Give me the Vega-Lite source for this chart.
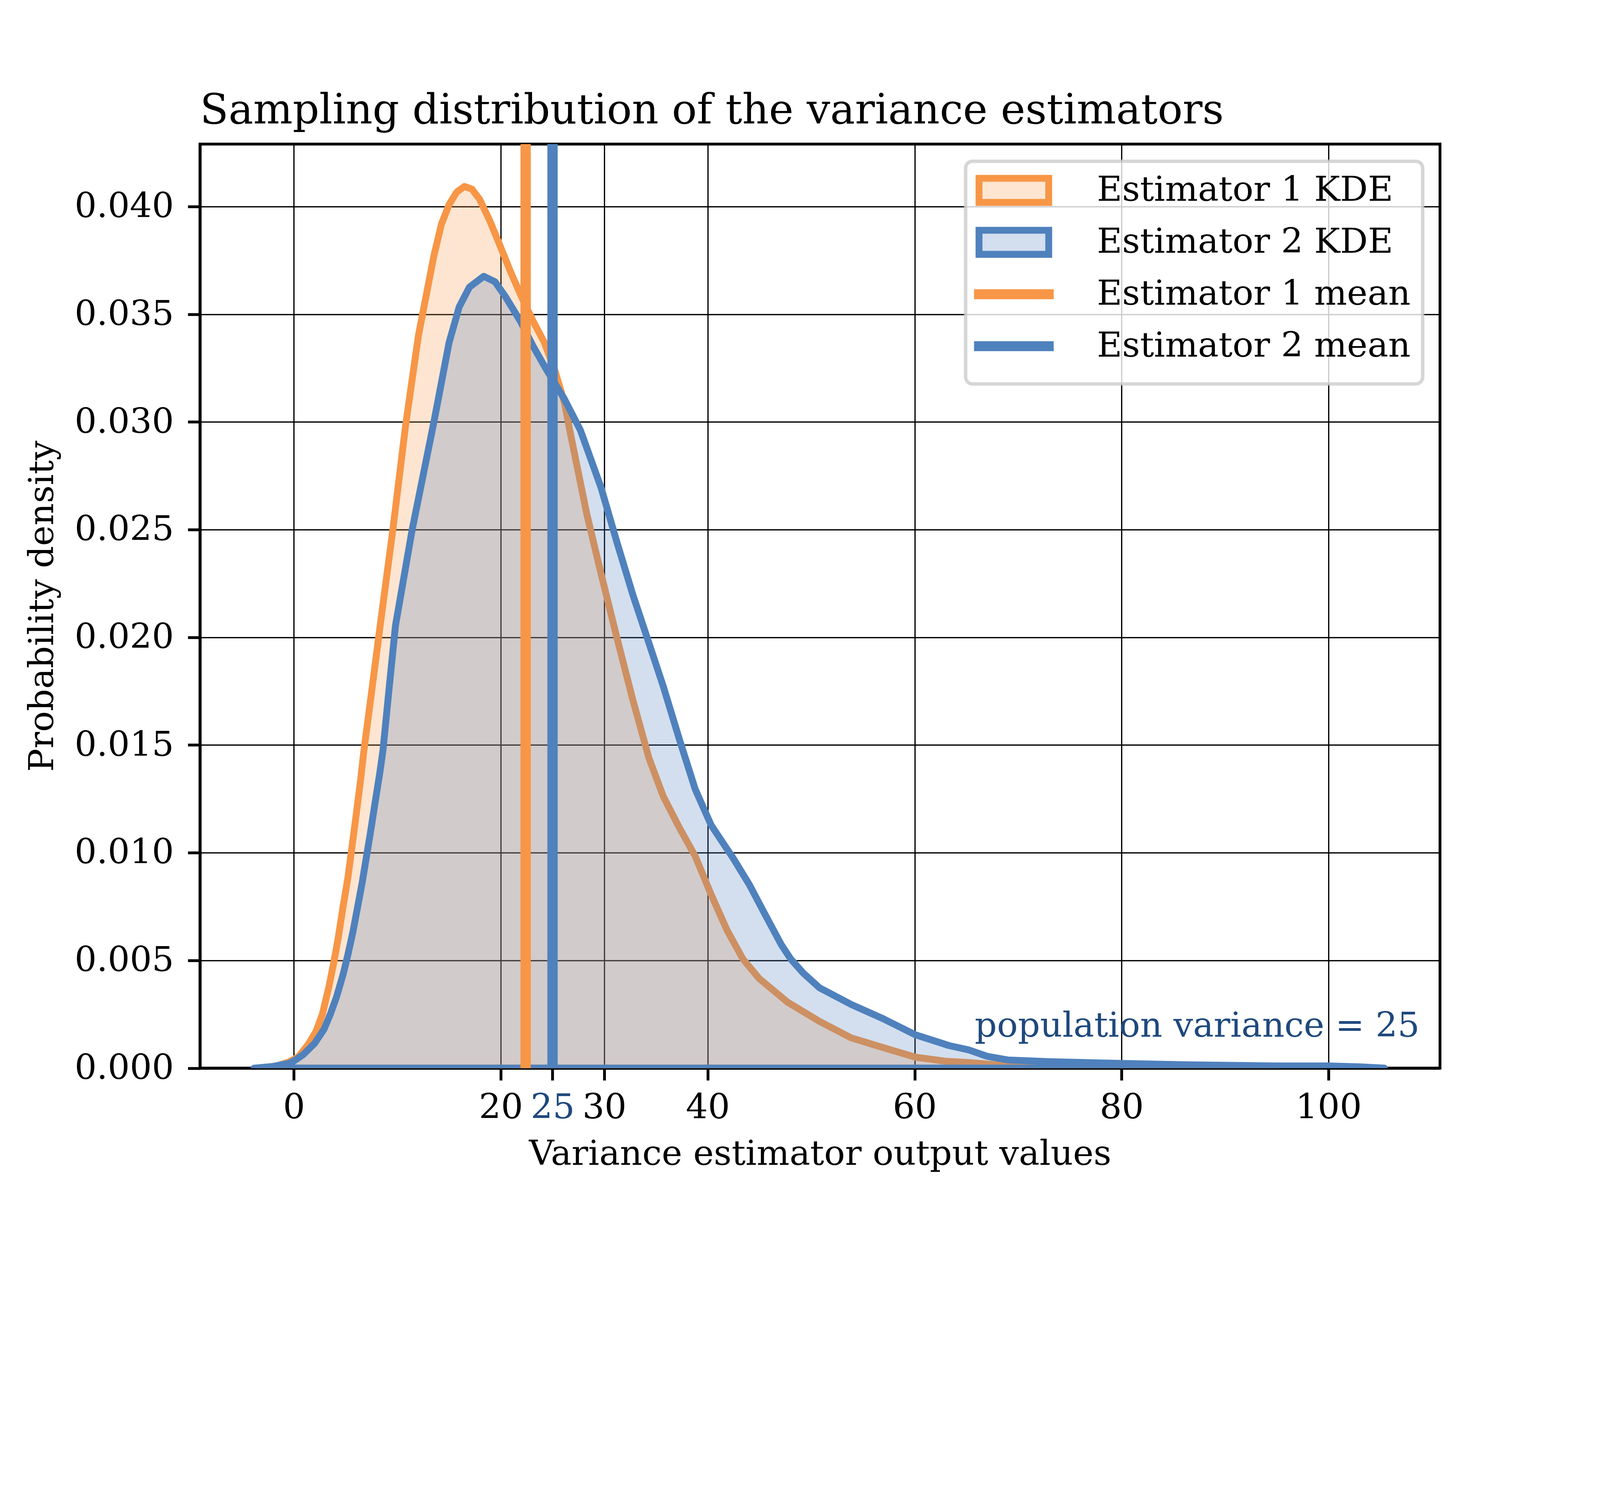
{
  "$schema": "https://vega.github.io/schema/vega-lite/v6.json",
  "width": 3174.4,
  "height": 2365.6,
  "autosize": {"type": "none"},
  "padding": {"left": 512, "top": 368.8, "right": 409.6, "bottom": 337.6},
  "background": "white",
  "title": {
    "text": "Sampling distribution of the variance estimators",
    "anchor": "start",
    "frame": "group",
    "fontSize": 106.4,
    "fontWeight": "normal",
    "offset": -54,
    "baseline": "alphabetic",
    "color": "black"
  },
  "datasets": {
    "kde": [
      {"x": -3.4, "density": 0, "series": "Estimator 1 KDE"},
      {"x": -2, "density": 0.00005, "series": "Estimator 1 KDE"},
      {"x": -0.5, "density": 0.00028, "series": "Estimator 1 KDE"},
      {"x": 0.45, "density": 0.00053, "series": "Estimator 1 KDE"},
      {"x": 1.37, "density": 0.00109, "series": "Estimator 1 KDE"},
      {"x": 2.14, "density": 0.0017, "series": "Estimator 1 KDE"},
      {"x": 2.76, "density": 0.00251, "series": "Estimator 1 KDE"},
      {"x": 3.37, "density": 0.00374, "series": "Estimator 1 KDE"},
      {"x": 3.84, "density": 0.00486, "series": "Estimator 1 KDE"},
      {"x": 4.3, "density": 0.00608, "series": "Estimator 1 KDE"},
      {"x": 4.76, "density": 0.00751, "series": "Estimator 1 KDE"},
      {"x": 5.22, "density": 0.00883, "series": "Estimator 1 KDE"},
      {"x": 5.53, "density": 0.00995, "series": "Estimator 1 KDE"},
      {"x": 6.0, "density": 0.01168, "series": "Estimator 1 KDE"},
      {"x": 6.46, "density": 0.01341, "series": "Estimator 1 KDE"},
      {"x": 6.77, "density": 0.01474, "series": "Estimator 1 KDE"},
      {"x": 7.55, "density": 0.0176, "series": "Estimator 1 KDE"},
      {"x": 8.34, "density": 0.02054, "series": "Estimator 1 KDE"},
      {"x": 9.57, "density": 0.02501, "series": "Estimator 1 KDE"},
      {"x": 10.8, "density": 0.02984, "series": "Estimator 1 KDE"},
      {"x": 12.04, "density": 0.03401, "series": "Estimator 1 KDE"},
      {"x": 13.52, "density": 0.03768, "series": "Estimator 1 KDE"},
      {"x": 14.26, "density": 0.03918, "series": "Estimator 1 KDE"},
      {"x": 15.0, "density": 0.04009, "series": "Estimator 1 KDE"},
      {"x": 15.74, "density": 0.04067, "series": "Estimator 1 KDE"},
      {"x": 16.48, "density": 0.04093, "series": "Estimator 1 KDE"},
      {"x": 17.21, "density": 0.04081, "series": "Estimator 1 KDE"},
      {"x": 17.95, "density": 0.04034, "series": "Estimator 1 KDE"},
      {"x": 18.94, "density": 0.03934, "series": "Estimator 1 KDE"},
      {"x": 19.93, "density": 0.03818, "series": "Estimator 1 KDE"},
      {"x": 20.91, "density": 0.03701, "series": "Estimator 1 KDE"},
      {"x": 21.9, "density": 0.03592, "series": "Estimator 1 KDE"},
      {"x": 23.13, "density": 0.03467, "series": "Estimator 1 KDE"},
      {"x": 24.2, "density": 0.0337, "series": "Estimator 1 KDE"},
      {"x": 25.22, "density": 0.0324, "series": "Estimator 1 KDE"},
      {"x": 26.15, "density": 0.0309, "series": "Estimator 1 KDE"},
      {"x": 26.77, "density": 0.02936, "series": "Estimator 1 KDE"},
      {"x": 28.31, "density": 0.02573, "series": "Estimator 1 KDE"},
      {"x": 29.69, "density": 0.02295, "series": "Estimator 1 KDE"},
      {"x": 31.24, "density": 0.01995, "series": "Estimator 1 KDE"},
      {"x": 32.78, "density": 0.01706, "series": "Estimator 1 KDE"},
      {"x": 34.32, "density": 0.01439, "series": "Estimator 1 KDE"},
      {"x": 35.7, "density": 0.01262, "series": "Estimator 1 KDE"},
      {"x": 37.25, "density": 0.01117, "series": "Estimator 1 KDE"},
      {"x": 38.79, "density": 0.00984, "series": "Estimator 1 KDE"},
      {"x": 40.33, "density": 0.00806, "series": "Estimator 1 KDE"},
      {"x": 41.87, "density": 0.0064, "series": "Estimator 1 KDE"},
      {"x": 43.41, "density": 0.00506, "series": "Estimator 1 KDE"},
      {"x": 44.95, "density": 0.00417, "series": "Estimator 1 KDE"},
      {"x": 47.72, "density": 0.00306, "series": "Estimator 1 KDE"},
      {"x": 50.8, "density": 0.00217, "series": "Estimator 1 KDE"},
      {"x": 53.89, "density": 0.0014, "series": "Estimator 1 KDE"},
      {"x": 56.97, "density": 0.00095, "series": "Estimator 1 KDE"},
      {"x": 60.05, "density": 0.00051, "series": "Estimator 1 KDE"},
      {"x": 63, "density": 0.00032, "series": "Estimator 1 KDE"},
      {"x": 65.23, "density": 0.00026, "series": "Estimator 1 KDE"},
      {"x": 68, "density": 0.00015, "series": "Estimator 1 KDE"},
      {"x": 72, "density": 0.00008, "series": "Estimator 1 KDE"},
      {"x": 80, "density": 0.00005, "series": "Estimator 1 KDE"},
      {"x": 88, "density": 0.00004, "series": "Estimator 1 KDE"},
      {"x": 95, "density": 0, "series": "Estimator 1 KDE"},
      {"x": -3.85, "density": 0, "series": "Estimator 2 KDE"},
      {"x": -2, "density": 0.00008, "series": "Estimator 2 KDE"},
      {"x": -0.48, "density": 0.00022, "series": "Estimator 2 KDE"},
      {"x": 0, "density": 0.00033, "series": "Estimator 2 KDE"},
      {"x": 0.91, "density": 0.00063, "series": "Estimator 2 KDE"},
      {"x": 1.99, "density": 0.00114, "series": "Estimator 2 KDE"},
      {"x": 2.91, "density": 0.0018, "series": "Estimator 2 KDE"},
      {"x": 3.53, "density": 0.00251, "series": "Estimator 2 KDE"},
      {"x": 4.14, "density": 0.00333, "series": "Estimator 2 KDE"},
      {"x": 4.76, "density": 0.00435, "series": "Estimator 2 KDE"},
      {"x": 5.22, "density": 0.00526, "series": "Estimator 2 KDE"},
      {"x": 5.69, "density": 0.00628, "series": "Estimator 2 KDE"},
      {"x": 6.15, "density": 0.00745, "series": "Estimator 2 KDE"},
      {"x": 6.61, "density": 0.00863, "series": "Estimator 2 KDE"},
      {"x": 6.92, "density": 0.00954, "series": "Estimator 2 KDE"},
      {"x": 7.38, "density": 0.01087, "series": "Estimator 2 KDE"},
      {"x": 7.84, "density": 0.01229, "series": "Estimator 2 KDE"},
      {"x": 8.31, "density": 0.01372, "series": "Estimator 2 KDE"},
      {"x": 8.61, "density": 0.01474, "series": "Estimator 2 KDE"},
      {"x": 9.2, "density": 0.0176, "series": "Estimator 2 KDE"},
      {"x": 9.82, "density": 0.02054, "series": "Estimator 2 KDE"},
      {"x": 11.44, "density": 0.02501, "series": "Estimator 2 KDE"},
      {"x": 13.52, "density": 0.02996, "series": "Estimator 2 KDE"},
      {"x": 15.0, "density": 0.03368, "series": "Estimator 2 KDE"},
      {"x": 15.98, "density": 0.03534, "series": "Estimator 2 KDE"},
      {"x": 16.97, "density": 0.03626, "series": "Estimator 2 KDE"},
      {"x": 18.35, "density": 0.03676, "series": "Estimator 2 KDE"},
      {"x": 19.43, "density": 0.03651, "series": "Estimator 2 KDE"},
      {"x": 20.42, "density": 0.03584, "series": "Estimator 2 KDE"},
      {"x": 21.9, "density": 0.03467, "series": "Estimator 2 KDE"},
      {"x": 23.13, "density": 0.03351, "series": "Estimator 2 KDE"},
      {"x": 24.45, "density": 0.0324, "series": "Estimator 2 KDE"},
      {"x": 26.15, "density": 0.03106, "series": "Estimator 2 KDE"},
      {"x": 27.69, "density": 0.02962, "series": "Estimator 2 KDE"},
      {"x": 29.69, "density": 0.02695, "series": "Estimator 2 KDE"},
      {"x": 31.24, "density": 0.02439, "series": "Estimator 2 KDE"},
      {"x": 32.78, "density": 0.02195, "series": "Estimator 2 KDE"},
      {"x": 34.32, "density": 0.01973, "series": "Estimator 2 KDE"},
      {"x": 35.7, "density": 0.01773, "series": "Estimator 2 KDE"},
      {"x": 37.25, "density": 0.01528, "series": "Estimator 2 KDE"},
      {"x": 38.79, "density": 0.01295, "series": "Estimator 2 KDE"},
      {"x": 40.33, "density": 0.01128, "series": "Estimator 2 KDE"},
      {"x": 42.48, "density": 0.00973, "series": "Estimator 2 KDE"},
      {"x": 44.03, "density": 0.00851, "series": "Estimator 2 KDE"},
      {"x": 45.57, "density": 0.00711, "series": "Estimator 2 KDE"},
      {"x": 47.11, "density": 0.00573, "series": "Estimator 2 KDE"},
      {"x": 48.03, "density": 0.00506, "series": "Estimator 2 KDE"},
      {"x": 49.26, "density": 0.0044, "series": "Estimator 2 KDE"},
      {"x": 50.8, "density": 0.00373, "series": "Estimator 2 KDE"},
      {"x": 53.89, "density": 0.00295, "series": "Estimator 2 KDE"},
      {"x": 56.97, "density": 0.00229, "series": "Estimator 2 KDE"},
      {"x": 60.05, "density": 0.00155, "series": "Estimator 2 KDE"},
      {"x": 63.3, "density": 0.00105, "series": "Estimator 2 KDE"},
      {"x": 65.2, "density": 0.00085, "series": "Estimator 2 KDE"},
      {"x": 67, "density": 0.00055, "series": "Estimator 2 KDE"},
      {"x": 69, "density": 0.00038, "series": "Estimator 2 KDE"},
      {"x": 73, "density": 0.0003, "series": "Estimator 2 KDE"},
      {"x": 80, "density": 0.00022, "series": "Estimator 2 KDE"},
      {"x": 87, "density": 0.00015, "series": "Estimator 2 KDE"},
      {"x": 95, "density": 0.0001, "series": "Estimator 2 KDE"},
      {"x": 100, "density": 0.0001, "series": "Estimator 2 KDE"},
      {"x": 103, "density": 0.00006, "series": "Estimator 2 KDE"},
      {"x": 105.4, "density": 0, "series": "Estimator 2 KDE"}
    ],
    "means": [
      {"x": 22.4, "series": "Estimator 1 mean"},
      {"x": 25, "series": "Estimator 2 mean"}
    ],
    "note": [
      {"x": 108.8, "density": 0.00145, "label": "population variance = 25"}
    ]
  },
  "encoding": {
    "x": {
      "field": "x",
      "type": "quantitative",
      "title": "Variance estimator output values",
      "scale": {"domain": [-9.07, 110.77], "nice": false, "zero": false},
      "axis": {
        "values": [0, 20, 25, 30, 40, 60, 80, 100],
        "format": "d",
        "labelPadding": 26.4,
        "titlePadding": 32,
        "labelOverlap": false,
        "labelFlush": false,
        "labelColor": {"condition": {"test": "datum.value === 25", "value": "#1F497D"}, "value": "black"},
        "gridOpacity": {"condition": {"test": "datum.value === 25", "value": 0}, "value": 1}
      }
    }
  },
  "layer": [
    {
      "data": {"name": "kde"},
      "transform": [{"filter": "datum.series === 'Estimator 1 KDE'"}],
      "mark": {"type": "area", "fill": "#F79646", "fillOpacity": 0.25, "stroke": "#F79646", "strokeWidth": 17.6, "strokeJoin": "round", "clip": true},
      "encoding": {
        "y": {
          "field": "density",
          "type": "quantitative",
          "stack": null,
          "title": "Probability density",
          "scale": {"domain": [0, 0.0429], "nice": false},
          "axis": {
            "values": [0, 0.005, 0.01, 0.015, 0.02, 0.025, 0.03, 0.035, 0.04],
            "format": ".3f",
            "labelPadding": 36,
            "titlePadding": 36,
            "minExtent": 321.6,
            "maxExtent": 321.6
          }
        }
      }
    },
    {
      "data": {"name": "kde"},
      "transform": [{"filter": "datum.series === 'Estimator 2 KDE'"}],
      "mark": {"type": "area", "fill": "#4F81BD", "fillOpacity": 0.25, "stroke": "#4F81BD", "strokeWidth": 17.6, "strokeJoin": "round", "clip": true},
      "encoding": {
        "y": {"field": "density", "type": "quantitative", "stack": null, "title": "Probability density"}
      }
    },
    {
      "data": {"name": "kde"},
      "mark": {"type": "point", "opacity": 0, "strokeWidth": 17.6, "filled": false, "clip": true},
      "encoding": {
        "y": {"field": "density", "type": "quantitative", "title": "Probability density"},
        "fill": {
          "field": "series",
          "type": "nominal",
          "scale": {
            "domain": ["Estimator 1 KDE", "Estimator 2 KDE", "Estimator 1 mean", "Estimator 2 mean"],
            "range": ["#fde5d1", "#d3dfef", "#F79646", "#4F81BD"]
          }
        },
        "stroke": {
          "field": "series",
          "type": "nominal",
          "scale": {
            "domain": ["Estimator 1 KDE", "Estimator 2 KDE", "Estimator 1 mean", "Estimator 2 mean"],
            "range": ["#F79646", "#4F81BD", "#F79646", "#4F81BD"]
          }
        },
        "shape": {
          "field": "series",
          "type": "nominal",
          "scale": {
            "domain": ["Estimator 1 KDE", "Estimator 2 KDE", "Estimator 1 mean", "Estimator 2 mean"],
            "range": [
              "M-2.513,-0.868H2.513V0.868H-2.513Z",
              "M-2.513,-0.868H2.513V0.868H-2.513Z",
              "M-2.625,-0.113H2.625V0.113H-2.625Z M0,-0.868 M0,0.868",
              "M-2.625,-0.113H2.625V0.113H-2.625Z M0,-0.868 M0,0.868"
            ]
          },
          "legend": {
            "title": null,
            "orient": "top-right",
            "offset": 44,
            "padding": 30,
            "rowPadding": 0,
            "symbolSize": 5041,
            "symbolStrokeWidth": 17.6,
            "symbolOpacity": 1,
            "symbolOffset": 49,
            "labelOffset": 168,
            "labelFontSize": 88.8,
            "labelFont": "DejaVu Serif",
            "labelColor": "black",
            "labelLimit": 3000,
            "fillColor": "rgba(255,255,255,0.8)",
            "strokeColor": "rgba(204,204,204,0.8)",
            "cornerRadius": 17.6,
            "zindex": 2
          }
        }
      }
    },
    {
      "data": {"name": "means"},
      "mark": {"type": "rule", "strokeWidth": 26.4, "clip": true},
      "encoding": {
        "stroke": {"field": "series", "type": "nominal"}
      }
    },
    {
      "data": {"name": "note"},
      "mark": {"type": "text", "align": "right", "baseline": "alphabetic", "fontSize": 88.8, "font": "DejaVu Serif", "color": "#1F497D"},
      "encoding": {
        "y": {"field": "density", "type": "quantitative", "title": "Probability density"},
        "text": {"field": "label"}
      }
    }
  ],
  "config": {
    "font": "DejaVu Serif",
    "view": {"stroke": "black", "strokeWidth": 7.2},
    "legend": {"strokeWidth": 8.8},
    "axis": {
      "zindex": 1,
      "labelFontSize": 88.8,
      "labelColor": "black",
      "labelLimit": 1000,
      "titleFontSize": 88.8,
      "titleFontWeight": "normal",
      "titleColor": "black",
      "tickSize": 31.2,
      "tickWidth": 7.2,
      "tickColor": "black",
      "domainColor": "black",
      "domainWidth": 7.2,
      "grid": true,
      "gridColor": "black",
      "gridWidth": 3.2
    }
  }
}
